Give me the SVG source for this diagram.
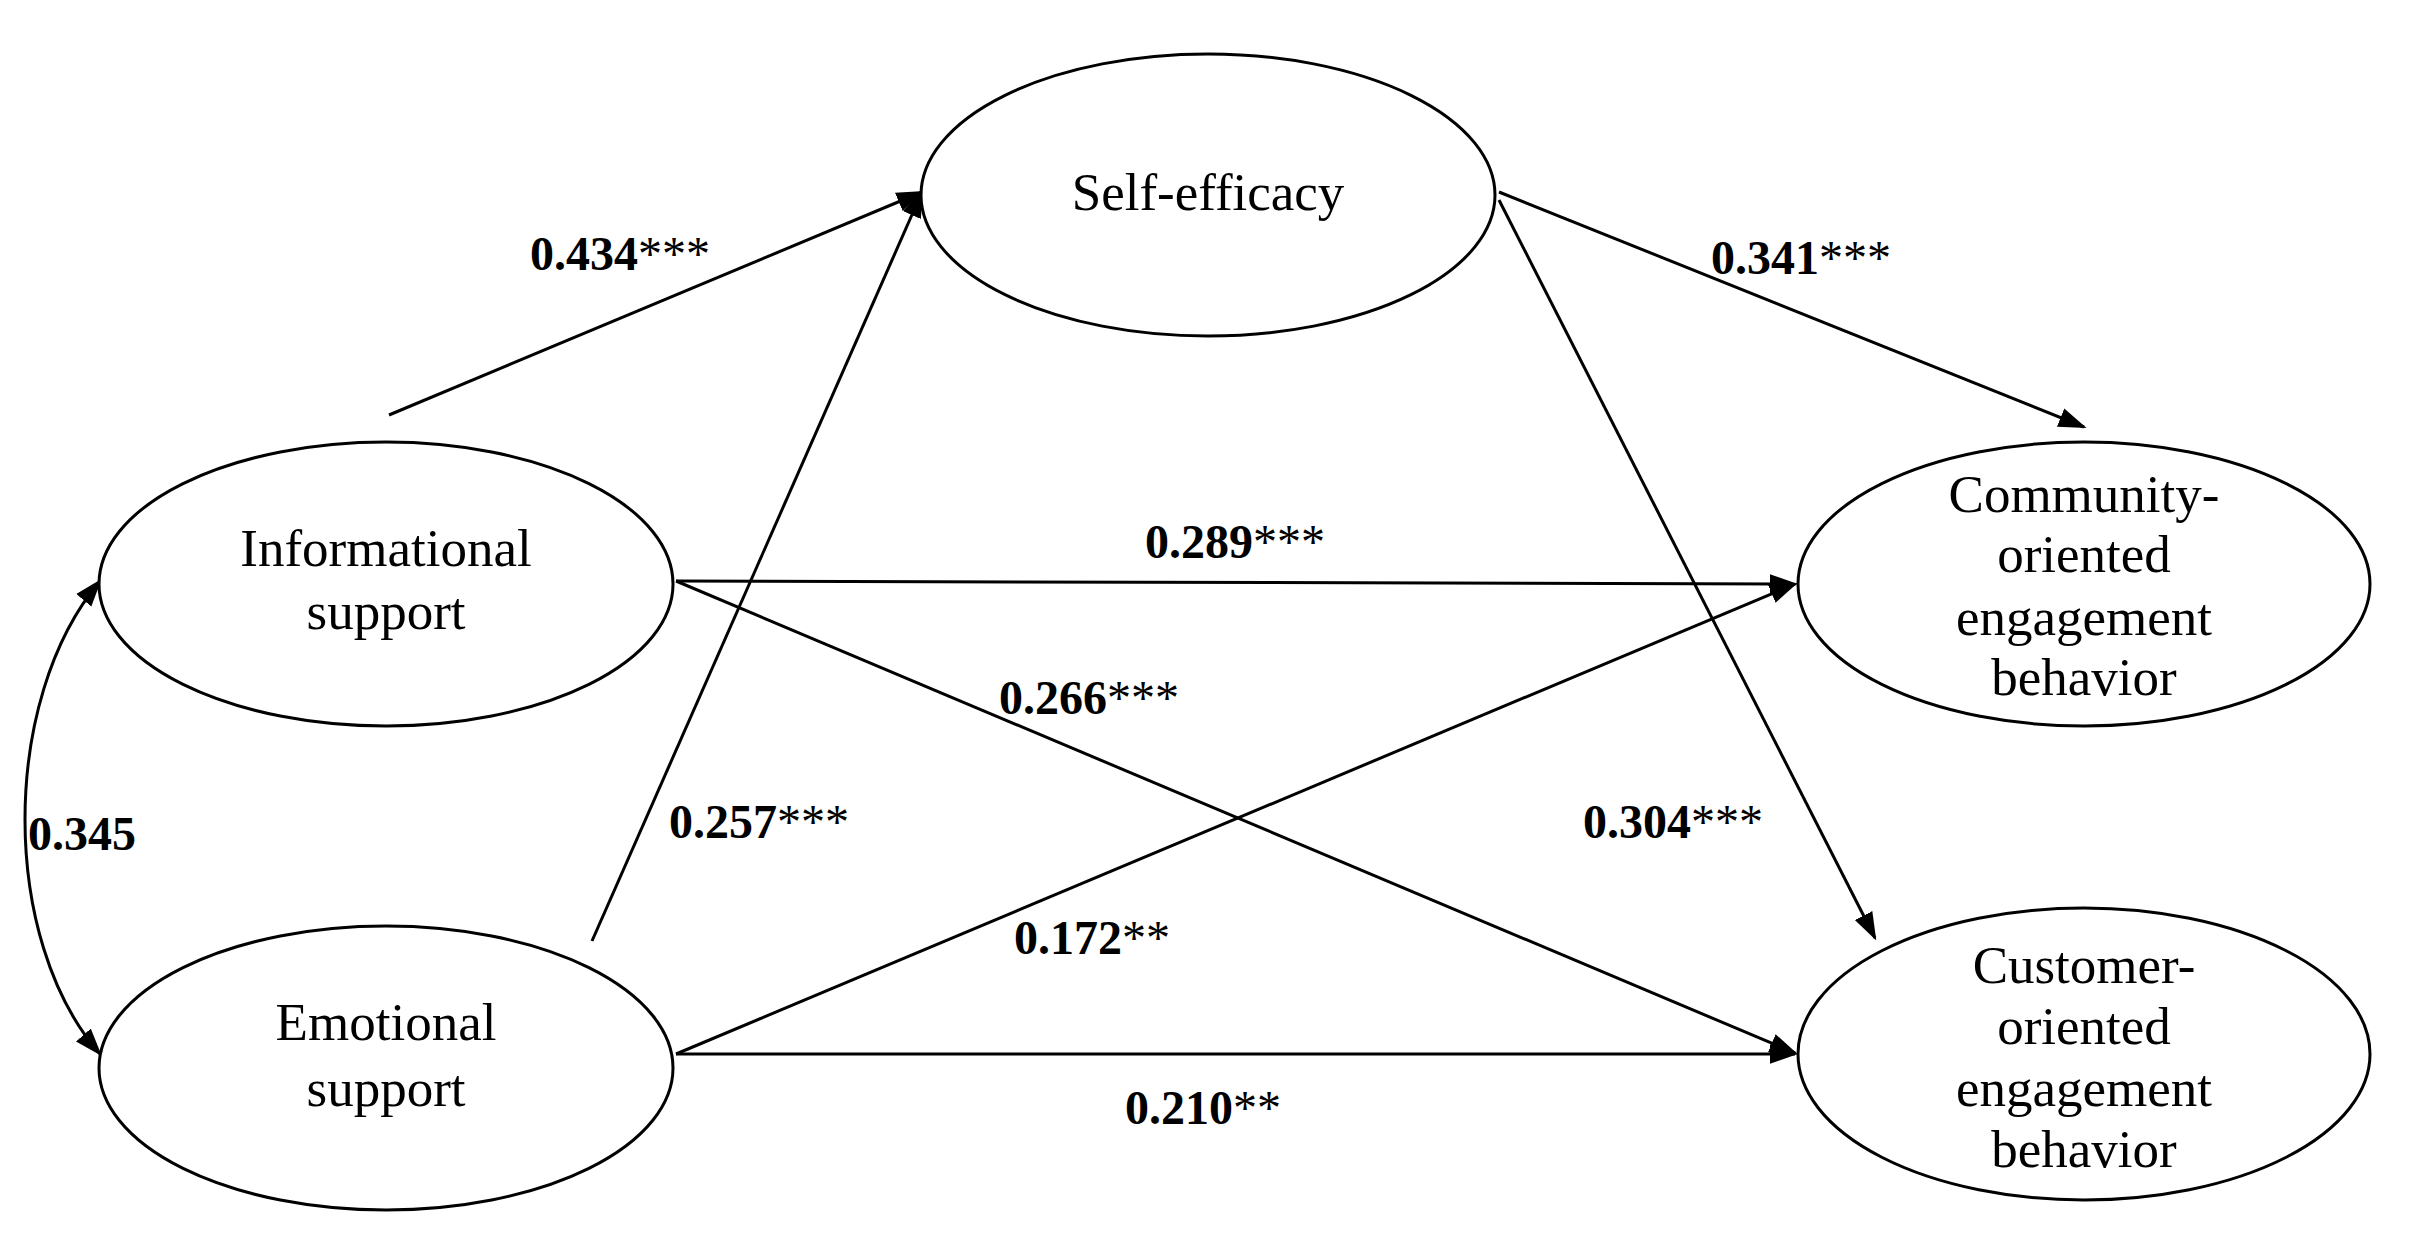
<svg xmlns="http://www.w3.org/2000/svg" width="2410" height="1256" viewBox="0 0 2410 1256">
<style>
.n{fill:#fff;stroke:#000;stroke-width:3}
.t{font-family:"Liberation Serif",serif;font-size:53px;text-anchor:middle}
.l{font-family:"Liberation Serif",serif;font-size:48px;font-weight:bold}
.l tspan{font-weight:normal}
</style>
<defs>
<marker id="b" viewBox="0 0 10 10" refX="9" refY="5" markerWidth="28" markerHeight="28" markerUnits="userSpaceOnUse" orient="auto-start-reverse"><path d="M0,1.5L10,5L0,8.5z"/></marker></defs>
<rect width="2410" height="1256" fill="#fff"/>
<g id="connectors" stroke="#000" stroke-width="3" fill="none">
<path d="M389,415L922,192" marker-end="url(#b)"/>
<path d="M592,941L922,192" marker-end="url(#b)"/>
<path d="M1499,192L2084,427" marker-end="url(#b)"/>
<path d="M1499,200L1875,938" marker-end="url(#b)"/>
<path d="M676,581L1795,584" marker-end="url(#b)"/>
<path d="M676,581L1795,1053" marker-end="url(#b)"/>
<path d="M676,1054L1795,584" marker-end="url(#b)"/>
<path d="M676,1054L1795,1054" marker-end="url(#b)"/>
<path d="M100,581C0,700 0,940 100,1054" marker-start="url(#b)" marker-end="url(#b)"/>
</g>
<g id="self"><ellipse class="n" cx="1208" cy="195" rx="287" ry="141"/><text class="t" x="1208" y="210">Self-efficacy</text></g>
<g id="info"><ellipse class="n" cx="386" cy="584" rx="287" ry="142"/><text class="t" x="386" y="566">Informational</text><text class="t" x="386" y="629">support</text></g>
<g id="emo"><ellipse class="n" cx="386" cy="1068" rx="287" ry="142"/><text class="t" x="386" y="1040">Emotional</text><text class="t" x="386" y="1106">support</text></g>
<g id="comm"><ellipse class="n" cx="2084" cy="584" rx="286" ry="142"/><text class="t" x="2084" y="512">Community-</text><text class="t" x="2084" y="572">oriented</text><text class="t" x="2084" y="635">engagement</text><text class="t" x="2084" y="695">behavior</text></g>
<g id="cust"><ellipse class="n" cx="2084" cy="1054" rx="286" ry="146"/><text class="t" x="2084" y="983">Customer-</text><text class="t" x="2084" y="1044">oriented</text><text class="t" x="2084" y="1106">engagement</text><text class="t" x="2084" y="1167">behavior</text></g>
<g id="labels">
<text class="l" x="530" y="270">0.434<tspan>***</tspan></text>
<text class="l" x="1711" y="274">0.341<tspan>***</tspan></text>
<text class="l" x="1145" y="558">0.289<tspan>***</tspan></text>
<text class="l" x="999" y="714">0.266<tspan>***</tspan></text>
<text class="l" x="669" y="838">0.257<tspan>***</tspan></text>
<text class="l" x="1583" y="838">0.304<tspan>***</tspan></text>
<text class="l" x="28" y="850">0.345</text>
<text class="l" x="1014" y="954">0.172<tspan>**</tspan></text>
<text class="l" x="1125" y="1124">0.210<tspan>**</tspan></text>
</g>
</svg>
